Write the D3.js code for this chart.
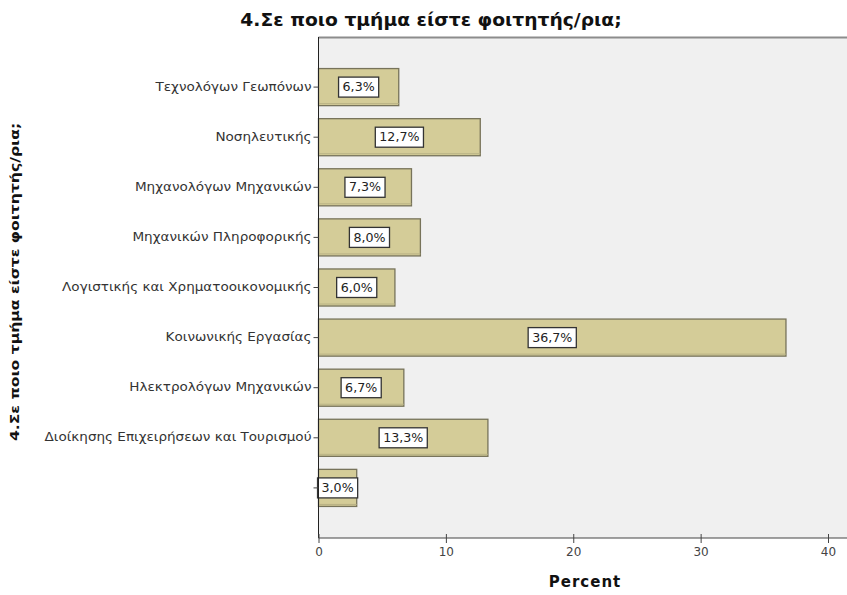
<!DOCTYPE html>
<html>
<head>
<meta charset="utf-8">
<script src="https://cdn.jsdelivr.net/npm/d3@7"></script>
<style>
body{margin:0;background:#fff;}
svg{display:block;font-family:"DejaVu Sans",Verdana,sans-serif;}
</style>
</head>
<body>
<svg id="chart" width="847" height="595"></svg>
<script>
const title = "4.Σε ποιο τμήμα είστε φοιτητής/ρια;";
const categories = ["Τεχνολόγων Γεωπόνων","Νοσηλευτικής","Μηχανολόγων Μηχανικών","Μηχανικών Πληροφορικής","Λογιστικής και Χρηματοοικονομικής","Κοινωνικής Εργασίας","Ηλεκτρολόγων Μηχανικών","Διοίκησης Επιχειρήσεων και Τουρισμού",""];
const values = [6.3,12.7,7.3,8.0,6.0,36.7,6.7,13.3,3.0];
const xTicks = [0,10,20,30,40];
const xLabel = "Percent";

const svg = d3.select("#chart");
const L = 318.5, T = 37, B = 538, R = 860;
const FONT = "DejaVu Sans, Verdana, sans-serif";

const x = d3.scaleLinear().domain([0,40]).range([L, 828]);
const y = d3.scaleBand().domain(d3.range(categories.length)).range([T, B]).paddingInner(0.26).paddingOuter(0.63);

// plot background
svg.append("rect").attr("x",L).attr("y",T).attr("width",R-L).attr("height",B-T).attr("fill","#f0f0f0");
svg.append("line").attr("x1",L).attr("x2",R).attr("y1",T+0.5).attr("y2",T+0.5).attr("stroke","#8c8c8c").attr("stroke-width",2);

// bars
const g = svg.append("g");
g.selectAll("rect.bar").data(values).join("rect").attr("class","bar")
  .attr("x",x(0)).attr("y",(d,i)=>y(i)).attr("width",d=>x(d)-x(0)).attr("height",y.bandwidth())
  .attr("fill","#d4cc98").attr("stroke","#77735a").attr("stroke-width",1.3);
g.selectAll("line.sh").data(values).join("line").attr("class","sh")
  .attr("x1",x(0)).attr("x2",d=>x(d)).attr("y1",(d,i)=>y(i)+y.bandwidth()-2).attr("y2",(d,i)=>y(i)+y.bandwidth()-2)
  .attr("stroke","#b8b284").attr("stroke-width",1);

// labels
const fmt = d => d.toFixed(1).replace(".", ",") + "%";
const lab = g.selectAll("g.lab").data(values).join("g").attr("class","lab")
  .attr("transform",(d,i)=>`translate(${(x(0)+x(d))/2},${y(i)+y.bandwidth()/2})`);
lab.each(function(d){
  const s = d3.select(this);
  const t = s.append("text").attr("text-anchor","middle").attr("dy","0.36em")
    .attr("font-size",11.5).attr("fill","#222").attr("transform","scale(1.1,1)").text(fmt(d));
  const w = t.node().getComputedTextLength()*1.1;
  s.insert("rect","text").attr("x",-w/2-4).attr("y",-10).attr("width",w+8).attr("height",20)
    .attr("fill","#fff").attr("stroke","#333").attr("stroke-width",1.3);
});

// y axis
const SX = 1.18;
const yAxis = d3.axisLeft(y).tickSize(5).tickPadding(2).tickFormat(i=>categories[i]);
const ya = svg.append("g").attr("transform",`translate(${L},0)`).call(yAxis);
ya.select(".domain").attr("stroke","#222").attr("d",`M0,${T}V${B}`);
ya.selectAll(".tick line").attr("stroke","#444");
ya.selectAll(".tick text").attr("font-size",11.5).attr("fill","#333").attr("font-family",FONT)
  .attr("transform",`scale(${SX},1)`).attr("x",-7/SX);

// x axis
const xAxis = d3.axisBottom(x).tickValues(xTicks).tickSize(5).tickPadding(4);
const xa = svg.append("g").attr("transform",`translate(0,${B})`).call(xAxis);
xa.select(".domain").attr("stroke","#444").attr("d",`M${L},0H${R}`);
xa.selectAll(".tick line").attr("stroke","#444").attr("y1",-4);
xa.selectAll(".tick text").attr("font-size",12).attr("fill","#444").attr("font-family",FONT);

// titles
svg.append("text").attr("transform","translate(431,26) scale(1.1,1)").attr("text-anchor","middle")
  .attr("font-size",17).attr("font-weight","bold").attr("fill","#111").text(title);
svg.append("text").attr("x",585).attr("y",587).attr("text-anchor","middle")
  .attr("font-size",15).attr("font-weight","bold").attr("letter-spacing",1).attr("fill","#111").text(xLabel);
svg.append("text").attr("transform","translate(19,282) rotate(-90) scale(1.25,1)").attr("text-anchor","middle")
  .attr("font-size",12.5).attr("font-weight","bold").attr("fill","#111").text(title);
</script>
</body>
</html>
